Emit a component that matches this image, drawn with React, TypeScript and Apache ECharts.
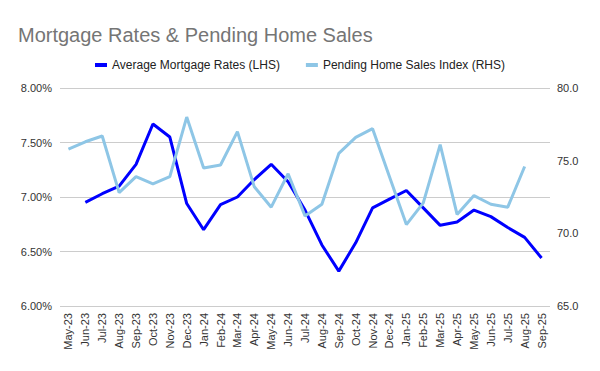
import React, { useEffect, useRef } from "react";
import * as echarts from "echarts";

const categories = [
  "May-23", "Jun-23", "Jul-23", "Aug-23", "Sep-23", "Oct-23", "Nov-23", "Dec-23",
  "Jan-24", "Feb-24", "Mar-24", "Apr-24", "May-24", "Jun-24", "Jul-24", "Aug-24",
  "Sep-24", "Oct-24", "Nov-24", "Dec-24", "Jan-25", "Feb-25", "Mar-25", "Apr-25",
  "May-25", "Jun-25", "Jul-25", "Aug-25", "Sep-25",
];

const mortgageRates: (number | null)[] = [
  null, 6.95, 7.03, 7.1, 7.3, 7.67, 7.55, 6.94,
  6.7, 6.93, 7.0, 7.16, 7.3, 7.14, 6.88, 6.56,
  6.32, 6.58, 6.9, 6.98, 7.06, 6.9, 6.74, 6.77,
  6.88, 6.82, 6.72, 6.63, 6.44,
];

const pendingSales: (number | null)[] = [
  75.8, 76.3, 76.7, 72.8, 73.9, 73.4, 73.9, 78.0,
  74.5, 74.7, 77.0, 73.2, 71.8, 74.1, 71.2, 72.0,
  75.5, 76.6, 77.2, 73.9, 70.6, 72.1, 76.1, 71.3,
  72.6, 72.0, 71.8, 74.6, null,
];

const seriesNames = ["Average Mortgage Rates (LHS)", "Pending Home Sales Index (RHS)"];
const FONT = "'Liberation Sans', Arial, sans-serif";

export default function App() {
  const ref = useRef<HTMLDivElement>(null);
  useEffect(() => {
    if (!ref.current) return;
    const chart = echarts.init(ref.current, undefined, { renderer: "svg" });
    chart.setOption({
      animation: false,
      backgroundColor: "#ffffff",
      textStyle: { fontFamily: FONT },
      title: {
        text: "Mortgage Rates & Pending Home Sales",
        left: 13,
        top: 20,
        textStyle: { fontFamily: FONT, fontSize: 20, fontWeight: "normal", color: "#757575" },
      },
      legend: {
        top: 54,
        left: "center",
        itemWidth: 12,
        itemHeight: 4,
        itemGap: 26,
        icon: "rect",
        textStyle: { fontFamily: FONT, fontSize: 12, color: "#222222" },
        data: seriesNames,
      },
      grid: { left: 60, right: 50, top: 88, bottom: 65 },
      xAxis: {
        type: "category",
        data: categories,
        boundaryGap: true,
        axisLine: { show: false },
        axisTick: { show: false },
        axisLabel: {
          rotate: 90,
          interval: 0,
          fontSize: 11,
          color: "#333333",
          fontFamily: FONT,
          margin: 7,
        },
      },
      yAxis: [
        {
          type: "value",
          min: 6,
          max: 8,
          interval: 0.5,
          position: "left",
          axisLine: { show: false },
          axisTick: { show: false },
          splitLine: { show: true, lineStyle: { color: "#cccccc", width: 1 } },
          axisLabel: {
            formatter: (v: number) => v.toFixed(2) + "%",
            fontSize: 11,
            color: "#333333",
            fontFamily: FONT,
            margin: 8,
          },
        },
        {
          type: "value",
          min: 65,
          max: 80,
          interval: 5,
          position: "right",
          axisLine: { show: false },
          axisTick: { show: false },
          splitLine: { show: false },
          axisLabel: {
            formatter: (v: number) => v.toFixed(1),
            fontSize: 11,
            color: "#333333",
            fontFamily: FONT,
            margin: 7,
          },
        },
      ],
      series: [
        {
          name: seriesNames[0],
          type: "line",
          yAxisIndex: 0,
          data: mortgageRates,
          showSymbol: false,
          symbol: "none",
          lineStyle: { color: "#0000ff", width: 3 },
          itemStyle: { color: "#0000ff" },
          connectNulls: false,
        },
        {
          name: seriesNames[1],
          type: "line",
          yAxisIndex: 1,
          data: pendingSales,
          showSymbol: false,
          symbol: "none",
          lineStyle: { color: "#8ec6e6", width: 3 },
          itemStyle: { color: "#8ec6e6" },
          connectNulls: false,
        },
      ],
    });
    return () => chart.dispose();
  }, []);
  return <div ref={ref} style={{ width: 600, height: 371, position: "absolute", left: 0, top: 0 }} />;
}
